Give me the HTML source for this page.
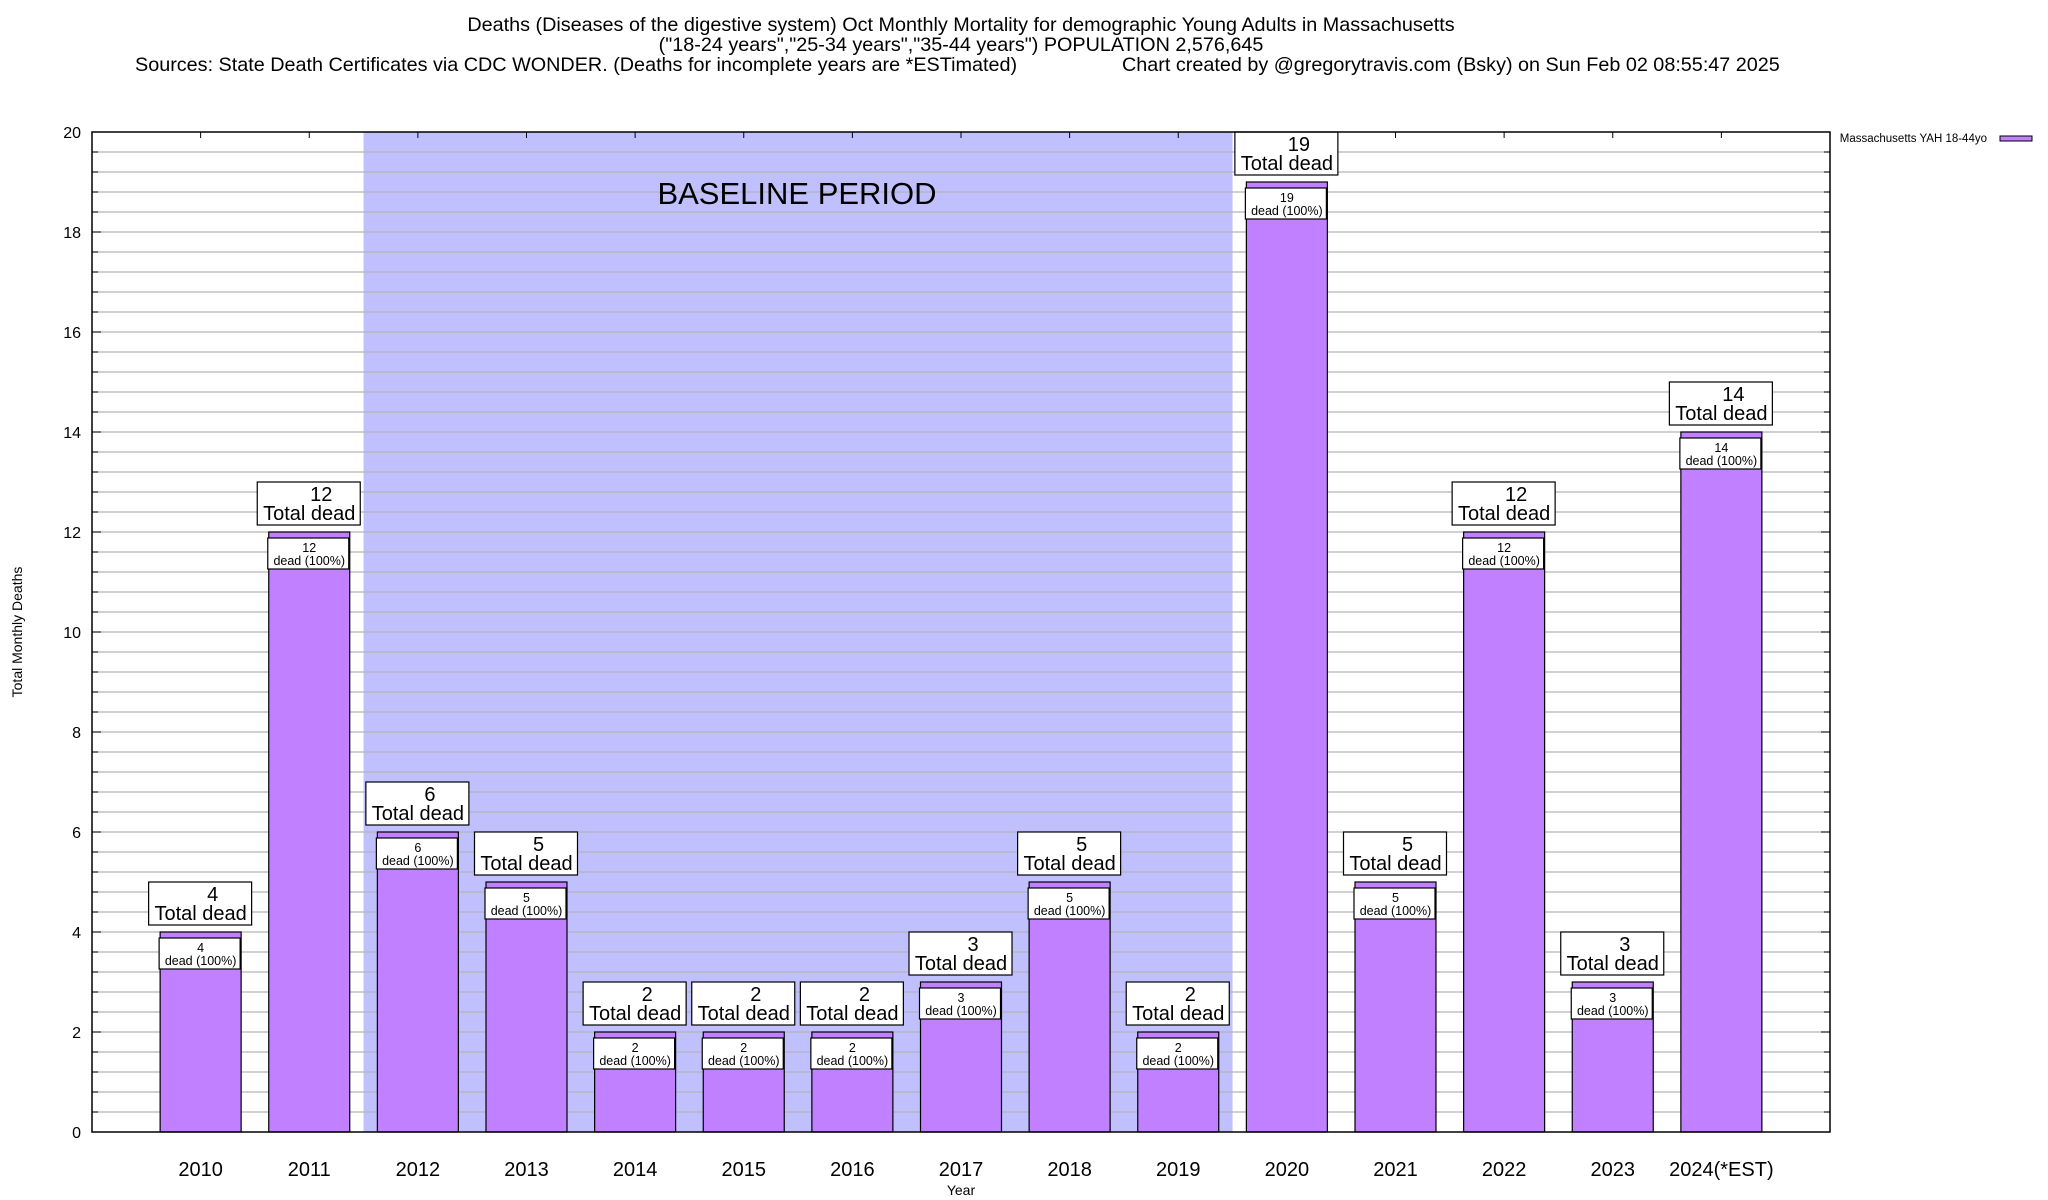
<!DOCTYPE html>
<html><head><meta charset="utf-8"><style>
html,body{margin:0;padding:0;background:#fff;}
svg{display:block;font-family:"Liberation Sans",Arial,sans-serif;}
</style></head><body>
<svg id="chart" width="2048" height="1200" viewBox="0 0 2048 1200">
<g>
<text x="961" y="31" font-size="19.8" text-anchor="middle">Deaths (Diseases of the digestive system) Oct Monthly Mortality for demographic Young Adults in Massachusetts</text>
<text x="961" y="51" font-size="19.8" text-anchor="middle">("18-24 years","25-34 years","35-44 years") POPULATION 2,576,645</text>
<text x="135" y="71" font-size="19.8">Sources: State Death Certificates via CDC WONDER. (Deaths for incomplete years are *ESTimated)</text>
<text x="1122" y="71" font-size="19.8">Chart created by @gregorytravis.com (Bsky) on Sun Feb 02 08:55:47 2025</text>
</g>
<g id="plot"></g>
</svg>
<script>
const categories=["2010","2011","2012","2013","2014","2015","2016","2017","2018","2019","2020","2021","2022","2023","2024(*EST)"];
const deaths=[4,12,6,5,2,2,2,3,5,2,19,5,12,3,14];
const yTicks=[0,2,4,6,8,10,12,14,16,18,20];
const baselineRange=[1.5,9.5];

const L=92,R=1830,T=132,B=1132;
const X=i=>L+(i+1)*(R-L)/16;
const Y=v=>B-(v/20)*(B-T);
const NS="http://www.w3.org/2000/svg";
const g=document.getElementById('plot');
function mk(tag,attrs,parent,txt){const e=document.createElementNS(NS,tag);for(const k in attrs)e.setAttribute(k,attrs[k]);if(txt!==undefined)e.textContent=txt;(parent||g).appendChild(e);return e;}

const bs=mk('rect',{x:X(baselineRange[0]),y:T,width:X(baselineRange[1])-X(baselineRange[0]),height:B-T,fill:'#c0c0ff'});


for(let k=1;k<50;k++){const v=k*0.4;const y=Y(v);
const gl=mk('line',{x1:L,x2:R,y1:y,y2:y,stroke:'#b4b4b4','stroke-width':1.3});


mk('line',{x1:L,x2:L+(k%5==0?9:6),y1:y,y2:y,stroke:'#000','stroke-width':1});
mk('line',{x1:R,x2:R-(k%5==0?9:6),y1:y,y2:y,stroke:'#000','stroke-width':1});}
const bt=mk('text',{x:797,y:204,'font-size':31,'text-anchor':'middle'},g,'BASELINE PERIOD');



yTicks.forEach(v=>{const t=mk('text',{x:81,y:Y(v)+6,'font-size':16,'text-anchor':'end'},g,String(v));

});

const bw=81;
categories.forEach((c,i)=>{
 const cx=X(i),v=deaths[i],yt=Y(v);
 mk('line',{x1:cx,x2:cx,y1:T,y2:T+6,stroke:'#000'});
 mk('line',{x1:cx,x2:cx,y1:B,y2:B-6,stroke:'#000'});
 const bar=mk('rect',{x:cx-bw/2,y:yt,width:bw,height:B-yt,fill:'#c080ff',stroke:'#000','stroke-width':1.2});
 
 
 const ib=mk('rect',{x:cx-bw/2-1,y:yt+6,width:bw,height:31,fill:'#fff',stroke:'#000','stroke-width':1.2});
 
 
 const t1=mk('text',{x:cx,y:yt+20,'font-size':12.5,'text-anchor':'middle'},g,String(v));
 
 
 const t2=mk('text',{x:cx,y:yt+33,'font-size':12.5,'text-anchor':'middle'},g,'dead (100%)');
 
 
 const ob=mk('rect',{x:cx-52,y:yt-50,width:103,height:43,fill:'#fff',stroke:'#000','stroke-width':1.2});
 
 
 const t3=mk('text',{x:cx+12,y:yt-31,'font-size':20,'text-anchor':'middle'},g,String(v));
 
 
 const t4=mk('text',{x:cx,y:yt-12,'font-size':20,'text-anchor':'middle'},g,'Total dead');
 
 
 const xl=mk('text',{x:cx,y:1176,'font-size':20,'text-anchor':'middle'},g,c);
 
 
});
const fr=mk('rect',{x:L,y:T,width:R-L,height:B-T,fill:'none',stroke:'#000','stroke-width':1.5});


const xt=mk('text',{x:961,y:1195,'font-size':14,'text-anchor':'middle'},g,'Year');


const yt2=mk('text',{x:22,y:632,'font-size':14,'text-anchor':'middle',transform:'rotate(-90 22 632)'},g,'Total Monthly Deaths');


const lg=mk('text',{x:1987,y:142,'font-size':11.5,'text-anchor':'end'},g,'Massachusetts YAH 18-44yo');


const ls=mk('rect',{x:2000,y:136,width:32,height:5,fill:'#c080ff',stroke:'#000','stroke-width':1});


</script>
</body></html>
